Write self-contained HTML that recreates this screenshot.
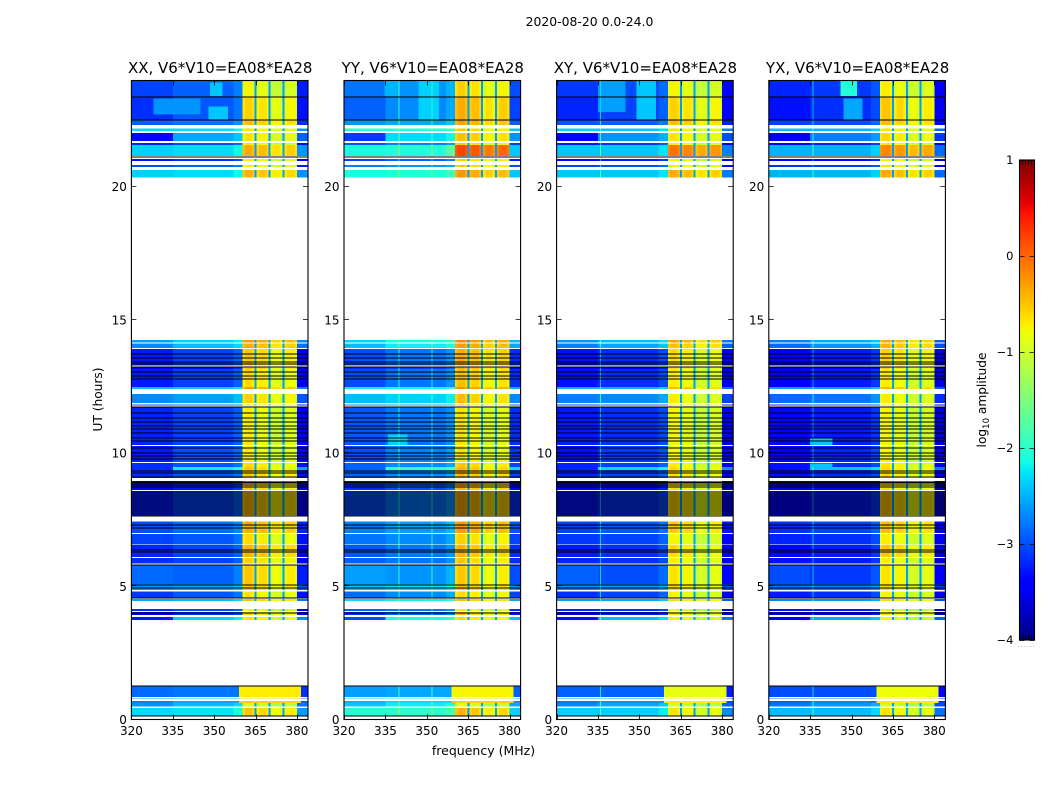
<!DOCTYPE html>
<html lang="en">
<head>
<meta charset="utf-8">
<title>2020-08-20 0.0-24.0</title>
<style>
html,body{margin:0;padding:0;background:#fff;width:1050px;height:800px;overflow:hidden}
svg{display:block}
text{font-family:"DejaVu Sans","Liberation Sans",sans-serif;fill:#000}
</style>
</head>
<body>
<svg id="chart" xmlns="http://www.w3.org/2000/svg" width="1050" height="800" viewBox="0 0 1050 800">
  <text x="589.5" y="26" font-size="12.4" text-anchor="middle">2020-08-20 0.0-24.0</text>
  <text x="483.5" y="755" font-size="12.5" text-anchor="middle">frequency (MHz)</text>
  <text x="0" y="0" font-size="12.2" text-anchor="middle" transform="translate(102 399.5) rotate(-90)">UT (hours)</text>
  <text x="0" y="0" font-size="12.2" text-anchor="middle" transform="translate(986 400) rotate(-90)">log<tspan font-size="8.5" dy="3">10</tspan><tspan dy="-3"> amplitude</tspan></text>
</svg>
<script>
// ---------- chart data ----------
const panelTitles = ['XX, V6*V10=EA08*EA28', 'YY, V6*V10=EA08*EA28', 'XY, V6*V10=EA08*EA28', 'YX, V6*V10=EA08*EA28'];
const xTicks = [320, 335, 350, 365, 380];
const yTicks = [0, 5, 10, 15, 20];
const colorTicks = [-4, -3, -2, -1, 0, 1];
const colorbarXTicks = [0, 0.2, 0.4, 0.6, 0.8, 1];

// time rows: hours (top, bottom). Gaps between rows are flagged data (white).
const rowTop = [24.00,23.36,22.48,22.17,22.01,21.63,21.56,21.03,20.81,20.62,
  14.24,14.11,13.90,13.23,13.15,12.48,12.21,11.82,11.74,10.26,
  9.62,9.47,9.36,8.95,8.57,7.43,6.96,6.55,6.06,5.82,
  5.08,4.80,4.52,4.15,4.03,3.85,1.26,0.79,0.69,0.62,0.43];
const rowBottom = [23.36,22.48,22.30,22.08,21.71,21.56,21.14,20.96,20.73,20.34,
  14.15,13.94,13.28,13.15,12.48,12.40,11.88,11.78,10.30,9.66,
  9.47,9.36,9.06,8.61,7.64,7.00,6.57,6.10,5.85,5.08,
  4.86,4.58,4.45,4.08,3.92,3.73,0.84,0.76,0.62,0.48,0.15];
// log10 amplitude per row: 320-335 MHz and 335-360 MHz (XX reference level)
const lowLevels = [-3.05,-3.15,-2.9,-2.3,-3.35,-3.2,-2.35,-3.3,-3.0,-2.35,
  -2.6,-2.7,-3.25,-3.4,-3.25,-2.45,-2.7,-3.0,-3.2,-3.25,
  -3.15,-3.15,-3.15,-3.4,-3.25,-3.0,-3.05,-3.2,-3.15,-2.85,
  -2.65,-3.1,-2.55,-3.15,-3.4,-3.25,-2.85,-2.55,-2.75,-2.65,-2.3];
const midLevels = [-2.9,-2.95,-2.8,-2.3,-2.55,-3.0,-2.3,-3.15,-2.9,-2.3,
  -2.35,-2.45,-3.05,-3.3,-3.05,-2.4,-2.6,-2.85,-3.05,-3.0,
  -2.95,-2.2,-2.95,-3.25,-3.05,-2.85,-2.95,-3.05,-3.05,-2.9,
  -2.55,-2.95,-2.45,-3.05,-3.15,-2.35,-2.8,-2.45,-2.55,-2.45,-2.25];
// log10 amplitude of the 360-380 MHz band, per row, one array per polarisation
const bandXX = [-0.85,-0.65,-0.55,-0.75,-0.75,-0.8,-0.45,-0.8,-0.8,-0.5,
  -0.35,-0.45,-0.6,-0.6,-0.7,-0.4,-0.65,-0.7,-0.8,-0.8,
  -0.7,-0.6,-0.6,-0.6,-0.55,-0.45,-0.7,-0.5,-0.65,-0.6,
  -0.6,-0.75,-0.6,-0.85,-0.65,-0.75,-0.7,-0.55,-0.55,-1.0,-0.6];
const bandYY = [-0.65,-0.45,-0.4,-0.6,-0.55,-0.65,0.1,-0.65,-0.6,-0.35,
  -0.25,-0.35,-0.45,-0.45,-0.55,-0.3,-0.55,-0.6,-0.75,-0.75,
  -0.6,-0.5,-0.5,-0.5,-0.45,-0.35,-0.65,-0.5,-0.6,-0.6,
  -0.55,-0.7,-0.55,-0.8,-0.55,-0.7,-0.75,-0.6,-0.55,-0.95,-0.5];
const bandXY = [-0.85,-0.65,-0.55,-0.75,-0.75,-0.8,-0.15,-0.85,-0.8,-0.45,
  -0.4,-0.55,-0.7,-0.7,-0.8,-0.5,-0.8,-0.8,-0.85,-0.85,
  -0.8,-0.7,-0.7,-0.7,-0.65,-0.6,-0.85,-0.7,-0.8,-0.75,
  -0.7,-0.85,-0.7,-0.95,-0.75,-0.85,-0.85,-0.7,-0.7,-1.05,-0.75];
const bandYX = [-0.8,-0.6,-0.55,-0.75,-0.7,-0.8,-0.25,-0.85,-0.75,-0.45,
  -0.45,-0.5,-0.65,-0.65,-0.8,-0.5,-0.8,-0.8,-0.85,-0.85,
  -0.75,-0.7,-0.7,-0.7,-0.6,-0.55,-0.8,-0.6,-0.8,-0.75,
  -0.7,-0.85,-0.7,-0.95,-0.75,-0.9,-0.8,-0.65,-0.7,-1.05,-0.75];
const wideRows = [36, 37, 38];
// polarisation shifts applied to the XX reference level
const panelLowShift = [0, 0.25, -0.05, -0.15];
const panelMidShift = [0, 0.25, -0.1, -0.2];
// spectral windows, MHz
const stripStart = [360.3, 365.4, 370.4, 375.4];
const stripEnd = [364.7, 369.7, 374.7, 380];
const stripShift = [0.1, 0, -0.2, -0.1];
const gapLevel = -2.6;
// narrow interference channels, MHz, per polarisation
const spikesXX = [];
const spikesYY = [339.8, 351.7];
const spikesXY = [335.7];
const spikesYX = [335.8];
// brighter patches: polarisation, fStart, fEnd, hourTop, hourBottom, level
const patchPanel = [0,0,0,1,1,1,1,2,2,3,3,3,3];
const patchFreqStart = [348.5,348,328,334.7,347,357,336,335,349,346,347,335,335];
const patchFreqEnd = [353,355,345,340,354.5,360,343,345,356,352,354,343,343];
const patchHourTop = [23.9,23.0,23.3,24,24,21.56,10.7,24,24,24,23.3,10.55,9.6];
const patchHourBottom = [23.4,22.48,22.7,23.4,22.48,21.14,10.3,22.8,22.48,23.4,22.48,10.3,9.36];
const patchLevel = [-2.4,-2.4,-2.65,-2.5,-2.35,-1.7,-2.35,-2.6,-2.4,-2.05,-2.55,-2.4,-2.4];
// integrations that render black (hours)
const blackLines = [23.36,22.48,21.09,13.70,13.55,13.43,13.34,13.22,13.05,12.89,12.77,
  11.73,11.51,11.32,11.15,11.02,10.89,10.74,10.57,10.45,10.18,10.01,9.90,9.77,9.32,9.24,9.11,
  8.92,8.86,8.80,8.72,8.55,8.47,8.40,8.32,8.25,8.17,8.10,8.02,7.95,7.87,7.80,7.72,7.65,
  7.30,7.20,6.36,6.27,5.80,5.05,4.95,4.56,3.98,1.26,0.15];

// ---------- layout ----------
const svg = document.getElementById('chart');
const NS = 'http://www.w3.org/2000/svg';
const panelLeft = [131.4, 344, 556.6, 768.8];
const panelWidth = 176.6;
const plotTop = 80.5;
const plotBottom = 719.5;
const bands = [bandXX, bandYY, bandXY, bandYX];
const spikes = [spikesXX, spikesYY, spikesXY, spikesYX];

function xPos(p, f) { return panelLeft[p] + (f - 320) / 64 * panelWidth; }
function yPos(h) { return plotBottom - h * 26.65; }
function cbY(l) { return 640 - (l + 4) * 96; }

function interp(table, v) {
  for (let i = 1; i < table.length; i++) {
    if (v <= table[i][0]) {
      const a = table[i - 1], b = table[i];
      return a[1] + (b[1] - a[1]) * (v - a[0]) / (b[0] - a[0]);
    }
  }
  return table[table.length - 1][1];
}
const jetR = [[0,0],[0.35,0],[0.66,1],[0.89,1],[1,0.5]];
const jetG = [[0,0],[0.125,0],[0.375,1],[0.64,1],[0.91,0],[1,0]];
const jetB = [[0,0.5],[0.11,1],[0.34,1],[0.65,0],[1,0]];
function jet(level) {
  const v = Math.max(0, Math.min(1, (level + 4) / 5));
  return 'rgb(' + Math.round(255 * interp(jetR, v)) + ',' + Math.round(255 * interp(jetG, v)) + ',' + Math.round(255 * interp(jetB, v)) + ')';
}
function make(tag, attrs, parent) {
  const el = document.createElementNS(NS, tag);
  for (const k in attrs) el.setAttribute(k, attrs[k]);
  parent.appendChild(el);
  return el;
}
function cell(g, p, f0, f1, hTop, hBottom, level) {
  const el = make('rect', {
    x: xPos(p, f0), y: yPos(hTop),
    width: xPos(p, f1) - xPos(p, f0), height: yPos(hBottom) - yPos(hTop),
    fill: jet(level)
  }, g);
  
  
}

// ---------- panels ----------
panelTitles.forEach(function (title, p) {
  const panel = make('g', {}, svg);
  
  

  const heat = make('g', { 'shape-rendering': 'crispEdges' }, panel);
  
  

  rowTop.forEach(function (top, r) {
    const bottom = rowBottom[r];
    const low = lowLevels[r] + panelLowShift[p];
    const mid = midLevels[r] + panelMidShift[p];
    const band = bands[p][r];
    cell(heat, p, 320, 335, top, bottom, low);
    if (wideRows.indexOf(r) >= 0) {
      cell(heat, p, 335, 359, top, bottom, mid);
      cell(heat, p, 359, 381.5, top, bottom, band);
      cell(heat, p, 381.5, 384, top, bottom, mid - 0.35);
      return;
    }
    cell(heat, p, 335, 357, top, bottom, mid);
    cell(heat, p, 357, stripStart[0], top, bottom, mid + 0.15);
    stripStart.forEach(function (s, i) {
      const e = stripEnd[i];
      const lvl = band + stripShift[i];
      cell(heat, p, s, s + 0.8, top, bottom, lvl - 0.12);
      cell(heat, p, s + 0.8, e - 0.8, top, bottom, lvl);
      cell(heat, p, e - 0.8, e, top, bottom, lvl - 0.12);
      if (i < stripStart.length - 1) cell(heat, p, e, stripStart[i + 1], top, bottom, gapLevel);
    });
    cell(heat, p, stripEnd[3], 384, top, bottom, mid - 0.35);
  });

  patchPanel.forEach(function (owner, i) {
    if (owner !== p) return;
    cell(heat, p, patchFreqStart[i], patchFreqEnd[i], patchHourTop[i], patchHourBottom[i], patchLevel[i]);
  });

  spikes[p].forEach(function (f) {
    rowTop.forEach(function (top, r) {
      cell(heat, p, f, f + 0.4, top, rowBottom[r], midLevels[r] + panelMidShift[p] + 0.7);
    });
  });

  blackLines.forEach(function (h) {
    const line = make('rect', {
      x: panelLeft[p], y: Math.round(yPos(h)) - 0.5,
      width: panelWidth, height: 1, fill: '#000'
    }, heat);
    
    
  });

  const title_ = make('text', { x: panelLeft[p] + panelWidth / 2 + 0.5, y: 73, 'font-size': 15, 'text-anchor': 'middle' }, panel);
  
  
  title_.textContent = title;

  xTicks.forEach(function (t) {
    const x = Math.round(xPos(p, t)) + 0.5;
    const tick = make('path', { d: 'M' + x + ' ' + plotBottom + 'v-5M' + x + ' ' + plotTop + 'v5', stroke: '#000', 'stroke-width': 0.8, fill: 'none' }, panel);
    
    
    const lab = make('text', { x: xPos(p, t), y: 735, 'font-size': 12, 'text-anchor': 'middle' }, panel);
    
    
    lab.textContent = t;
  });
  yTicks.forEach(function (t) {
    const y = Math.round(yPos(t)) - 0.5;
    const l = panelLeft[p], r = l + panelWidth;
    const tick = make('path', { d: 'M' + l + ' ' + y + 'h5M' + r + ' ' + y + 'h-5', stroke: '#000', 'stroke-width': 0.8, fill: 'none' }, panel);
    
    
    const lab = make('text', { x: l - 4.5, y: yPos(t) + 4.5, 'font-size': 12, 'text-anchor': 'end' }, panel);
    
    
    lab.textContent = t;
  });

  const frame = make('rect', { x: panelLeft[p], y: plotTop, width: panelWidth, height: plotBottom - plotTop, fill: 'none', stroke: '#000', 'stroke-width': 1.1 }, panel);
  
  
});

// ---------- colorbar ----------
const cb = make('g', {}, svg);


const cbLeft = 1019.5, cbWidth = 15;
const cbRamp = make('g', { 'shape-rendering': 'crispEdges' }, cb);


for (let i = 0; i < 240; i++) {
  const lvl = -4 + 5 * i / 240;
  const seg = make('rect', { x: cbLeft, y: cbY(lvl + 5 / 240), width: cbWidth, height: 2.5, fill: jet(lvl + 2.5 / 240) }, cbRamp);
  
  
}
colorTicks.forEach(function (t) {
  const y = cbY(t) + 0.5;
  const tick = make('path', { d: 'M' + cbLeft + ' ' + y + 'h5M' + (cbLeft + cbWidth) + ' ' + y + 'h-5', stroke: '#000', 'stroke-width': 0.8, fill: 'none' }, cb);
  
  
  const lab = make('text', { x: 1013.5, y: cbY(t) + 4, 'font-size': 11.5, 'text-anchor': 'end' }, cb);
  
  
  lab.textContent = t < 0 ? '\u2212' + Math.abs(t) : String(t);
});
colorbarXTicks.forEach(function (t) {
  const x = cbLeft + t * cbWidth;
  const tick = make('path', { d: 'M' + x + ' 160v5M' + x + ' 640v-5', stroke: '#000', 'stroke-width': 0.8, fill: 'none' }, cb);
  
  
  const lab = make('text', { x: x - 0.7, y: 647, 'font-size': 6, 'text-anchor': 'middle', style: 'fill:#777' }, cb);
  
  
  lab.textContent = '.';
});
const cbFrame = make('rect', { x: cbLeft, y: 160, width: cbWidth, height: 480, fill: 'none', stroke: '#000', 'stroke-width': 1.1 }, cb);


</script>
</body>
</html>
